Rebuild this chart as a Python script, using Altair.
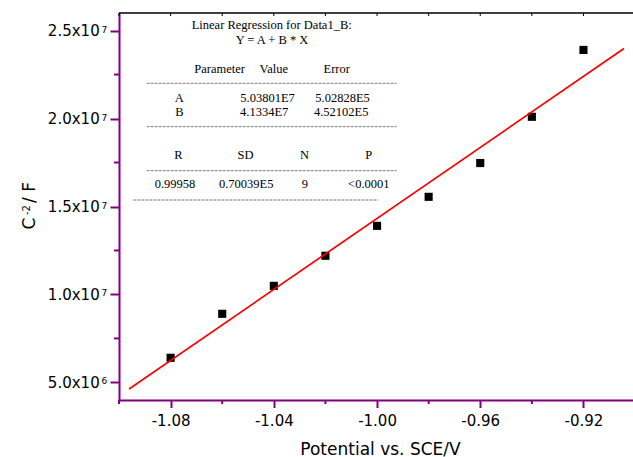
import altair as alt
import pandas as pd

# ---- data ----
x_vals = [-1.08, -1.06, -1.04, -1.02, -1.00, -0.98, -0.96, -0.94, -0.92]
y_vals = [6.40e6, 8.90e6, 1.049e7, 1.220e7, 1.390e7, 1.555e7, 1.747e7, 2.010e7, 2.390e7]
fit_x = [-1.0961, -0.9043]
fit_y = [4.625e6, 2.398e7]

x_major = [-1.08, -1.04, -1.00, -0.96, -0.92]
x_minor = [-1.10, -1.06, -1.02, -0.98, -0.94]
y_major = [5e6, 1e7, 1.5e7, 2e7, 2.5e7]
y_mantissa = ["5.0x10", "1.0x10", "1.5x10", "2.0x10", "2.5x10"]
y_exponent = ["6", "7", "7", "7", "7"]
y_minor = [7.5e6, 1.25e7, 1.75e7, 2.25e7]

x_title = "Potential vs. SCE/V"
y_title_parts = ["C", "-2", "/ F"]

ann_text = ["Linear Regression for Data1_B:", "Y = A + B * X",
            "Parameter", "Value", "Error",
            "A", "5.03801E7", "5.02828E5",
            "B", "4.1334E7", "4.52102E5",
            "R", "SD", "N", "P",
            "0.99958", "0.70039E5", "9", "<0.0001"]

# ---- layout (pixels, absolute in the picture) ----
ann_x = [271.7, 272.0, 219.7, 273.8, 336.7, 179.2, 267.5, 342.5, 179.5, 264.2, 341.2,
         178.5, 245.5, 304.5, 368.8, 175.0, 246.2, 304.8, 368.8]
ann_y = [29.0, 44.3, 73.3, 73.3, 73.3, 101.7, 101.7, 101.7, 116.0, 116.0, 116.0,
         159.3, 159.3, 159.3, 159.3, 188.3, 188.3, 188.3, 188.3]
dash_lines = [(146.7, 396.7, 83.3), (146.7, 396.7, 126.7), (146.7, 396.7, 170.7), (133.3, 378.3, 200.0)]
# y title pieces: (baseline x, start y, font size)
ytitle_layout = [(35.0, 229.5, 17), (29.5, 215.0, 10), (35.0, 203.0, 17)]

OX, OY = 119, 13
W, H = 514, 387
PURPLE = "#800080"
SANS = "DejaVu Sans"
SERIF = "Liberation Serif"

xs = alt.Scale(domain=[-1.10, -0.9008], nice=False, zero=False)
ys = alt.Scale(domain=[4e6, 2.6e7], nice=False, zero=False)

one = alt.InlineData(values=[{"k": 1}])

pts = pd.DataFrame({"x": x_vals, "y": y_vals})
fit = pd.DataFrame({"x": fit_x, "y": fit_y})

x_axis = alt.Axis(values=x_major, format=".2f", labelExpr="replace(datum.label, '\u2212', '-')",
                  title=x_title, titleFont=SANS, titleFontSize=17,
                  titleFontWeight="normal", titleColor="black", titleX=261, titleY=54,
                  titleBaseline="alphabetic", titleAlign="center",
                  labelFont=SANS, labelFontSize=15, labelColor="black",
                  labelBaseline="alphabetic", labelPadding=18, labelFlush=False,
                  labelOverlap=False, tickSize=7.5, tickWidth=2, tickColor=PURPLE,
                  domainColor=PURPLE, domainWidth=2, grid=False)

y_axis = alt.Axis(values=y_major, labels=False, tickSize=9, tickWidth=2, tickColor=PURPLE,
                  domainColor=PURPLE, domainWidth=2, grid=False, title="")


def X(field):
    return alt.X(field, scale=xs, axis=x_axis)


def Y(field):
    return alt.Y(field, scale=ys, axis=y_axis)


points = alt.Chart(pts).mark_square(size=66, color="black", opacity=1).encode(
    x=X("x:Q"), y=Y("y:Q"))

line = alt.Chart(fit).mark_line(color="#ff0000", strokeWidth=1.7).encode(
    x=X("x:Q"), y=Y("y:Q"))

y_minor_ticks = alt.Chart(pd.DataFrame({"y": y_minor})).mark_rule(color=PURPLE, strokeWidth=2).encode(
    y=Y("y:Q"), x=alt.value(-5), x2=alt.value(0))

x_minor_ticks = alt.Chart(pd.DataFrame({"x": x_minor})).mark_rule(color=PURPLE, strokeWidth=2).encode(
    x=X("x:Q"), y=alt.value(H), y2=alt.value(H + 4))

top_ticks = alt.Chart(pd.DataFrame({"x": x_major + x_minor})).mark_rule(color="black", strokeWidth=1).encode(
    x=X("x:Q"), y=alt.value(0), y2=alt.value(3))

top_line = alt.Chart(one).mark_rule(color="black", strokeWidth=1.5).encode(
    x=alt.value(0), x2=alt.value(W), y=alt.value(0))

ylab = pd.DataFrame({"y": y_major, "m": y_mantissa, "e": y_exponent})
y_labels = alt.Chart(ylab).mark_text(align="right", baseline="alphabetic", font=SANS,
                                     fontSize=15, color="black", dy=5.5).encode(
    y=Y("y:Q"), x=alt.value(-19.3), text="m:N")
y_exps = alt.Chart(ylab).mark_text(align="left", baseline="alphabetic", font=SANS,
                                   fontSize=9, color="black", dy=2).encode(
    y=Y("y:Q"), x=alt.value(-17.6), text="e:N")

layers = [points, line, y_minor_ticks, x_minor_ticks, top_ticks, top_line, y_labels, y_exps]

for t, (bx, sy, fs) in zip(y_title_parts, ytitle_layout):
    layers.append(alt.Chart(one).mark_text(text=t, angle=270, align="left", baseline="alphabetic",
                                           font=SANS, fontSize=fs, color="black").encode(
        x=alt.value(bx - OX), y=alt.value(sy - OY)))

for t, px, py in zip(ann_text, ann_x, ann_y):
    layers.append(alt.Chart(one).mark_text(text=t, align="center", baseline="alphabetic",
                                           font=SERIF, fontSize=12.5, color="black").encode(
        x=alt.value(px - OX), y=alt.value(py - OY)))

for x1, x2, yy in dash_lines:
    layers.append(alt.Chart(one).mark_rule(color="#555555", strokeWidth=0.8, strokeDash=[3, 1]).encode(
        x=alt.value(x1 - OX), x2=alt.value(x2 - OX), y=alt.value(yy - OY)))

chart = alt.layer(*layers).properties(
    width=W, height=H,
    autosize=alt.AutoSizeParams(type="none"),
    padding={"left": OX, "top": OY, "right": 0, "bottom": 457 - OY - H},
).configure_view(stroke=None)

chart.save("out.html", embed_options={"renderer": "svg", "actions": False})
